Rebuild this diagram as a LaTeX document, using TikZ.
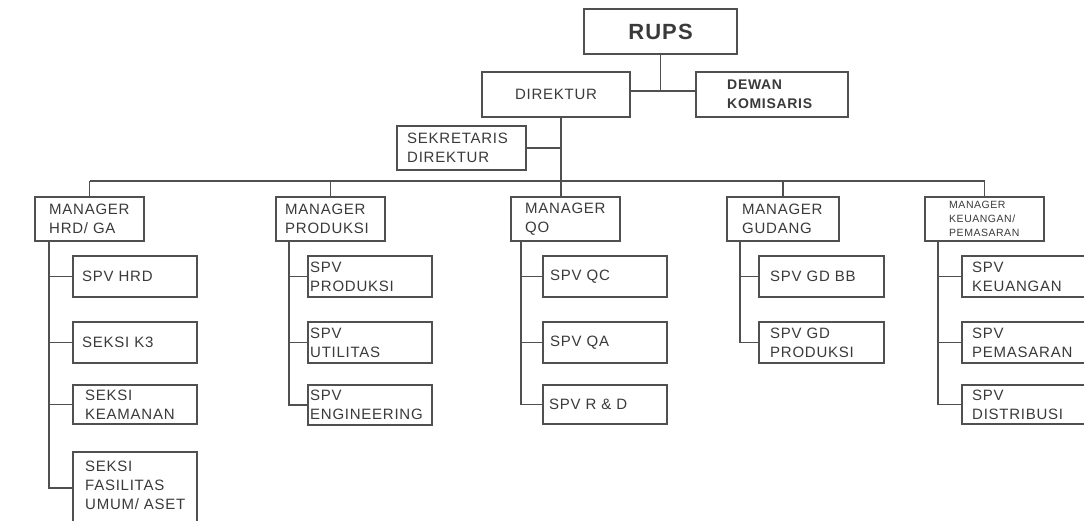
\documentclass[tikz,border=0pt]{standalone}
\usepackage{fontspec}
\setmainfont{Liberation Sans}[LetterSpace=5]
\definecolor{linec}{RGB}{80,80,80}
\definecolor{txtc}{RGB}{58,58,58}
\tikzset{
  box/.style={draw=linec, line width=1.7pt, fill=white, rectangle, inner sep=0pt, outer sep=0pt},
  txt/.style={inner sep=0pt, align=left, text=txtc, font=\fontsize{15}{19}\selectfont},
  smalltxt/.style={inner sep=0pt, align=left, text=txtc, font=\fontsize{10.5}{14}\selectfont},
  conn/.style={draw=linec, line width=1.9pt},
}
\newcommand\orgbox[5]{\node[box, anchor=north west, minimum width={(#4-#2)*1pt}, minimum height={(#5-#3)*1pt}] (#1) at (#2,#3) {};}
\newcommand\orgtext[3]{\node[txt, anchor=west] (#1-t) at ([xshift=#2pt]#1.west) {#3};}
\begin{document}
\begin{tikzpicture}[x=1pt,y=-1pt]
\useasboundingbox (0,0) rectangle (1084,520);
\fill[white] (0,0) rectangle (1084,520);
\clip (0,0) rectangle (1084,520);

% top
\orgbox{rups}{584}{9}{737}{54}
\node[inner sep=0pt, text=txtc, font=\bfseries\fontsize{22}{26}\selectfont] (rups-t) at (rups.center) {RUPS};
\orgbox{dir}{482}{72}{630}{117}
\node[txt] (dir-t) at (dir.center) {DIREKTUR};
\orgbox{dew}{696}{72}{848}{117}
\node[txt, anchor=west, font=\bfseries\fontsize{14}{19}\selectfont] (dew-t) at ([xshift=31pt]dew.west) {DEWAN\\KOMISARIS};
\orgbox{sek}{397}{126}{526}{170}
\orgtext{sek}{10}{SEKRETARIS\\DIREKTUR}

% managers
\orgbox{hrd}{35}{197}{144}{241}
\orgtext{hrd}{14}{MANAGER\\HRD/ GA}
\orgbox{prod}{276}{197}{385}{241}
\orgtext{prod}{9}{MANAGER\\PRODUKSI}
\orgbox{qo}{511}{197}{620}{241}
\orgtext{qo}{14}{MANAGER\\QO}
\orgbox{gud}{727}{197}{839}{241}
\orgtext{gud}{15}{MANAGER\\GUDANG}
\orgbox{keu}{925}{197}{1044}{241}
\node[smalltxt, anchor=west] (keu-t) at ([xshift=24pt]keu.west) {MANAGER\\KEUANGAN/\\PEMASARAN};

% HRD column
\orgbox{spvhrd}{73}{256}{197}{297}
\orgtext{spvhrd}{9}{SPV HRD}
\orgbox{k3}{73}{322}{197}{363}
\orgtext{k3}{9}{SEKSI K3}
\orgbox{keam}{73}{385}{197}{424}
\orgtext{keam}{12}{SEKSI\\KEAMANAN}
\orgbox{fas}{73}{452}{197}{524}
\node[txt, anchor=north west] (fas-t) at ([xshift=12pt,yshift=-9pt]fas.north west) {SEKSI\\FASILITAS\\UMUM/ ASET};

% Produksi column
\orgbox{spvprod}{308}{256}{432}{297}
\orgtext{spvprod}{2}{SPV\\PRODUKSI}
\orgbox{util}{308}{322}{432}{363}
\orgtext{util}{2}{SPV\\UTILITAS}
\orgbox{eng}{308}{385}{432}{425}
\orgtext{eng}{2}{SPV\\ENGINEERING}

% QO column
\orgbox{qc}{543}{256}{667}{297}
\orgtext{qc}{7}{SPV QC}
\orgbox{qa}{543}{322}{667}{363}
\orgtext{qa}{7}{SPV QA}
\orgbox{rd}{543}{385}{667}{424}
\orgtext{rd}{6}{SPV R \& D}

% Gudang column
\orgbox{gdbb}{759}{256}{884}{297}
\orgtext{gdbb}{11}{SPV GD BB}
\orgbox{gdprod}{759}{322}{884}{363}
\orgtext{gdprod}{11}{SPV GD\\PRODUKSI}

% Keuangan column
\orgbox{spvkeu}{962}{256}{1092}{297}
\orgtext{spvkeu}{10}{SPV\\KEUANGAN}
\orgbox{pem}{962}{322}{1092}{363}
\orgtext{pem}{10}{SPV\\PEMASARAN}
\orgbox{dist}{962}{385}{1092}{424}
\orgtext{dist}{10}{SPV\\DISTRIBUSI}

% connectors top
\coordinate (j1) at (665,91);
\draw[conn] (rups.south) -- (rups.south |- j1);
\draw[conn] (dir.east |- j1) -- (dew.west |- j1);
\coordinate (bus) at (561,181);
\draw[conn] (dir.south -| bus) -- (qo.north -| bus);
\draw[conn] (sek.east) -- (sek.east -| bus);
\draw[conn] (hrd.north |- bus) -- (keu.north |- bus);
\foreach \m in {hrd,prod,gud,keu} \draw[conn] (\m.north) -- (\m.north |- bus);

% spines
\coordinate (sp1) at ([xshift=14pt]hrd.south west);
\draw[conn] (sp1) |- (fas.west);
\foreach \s in {spvhrd,k3,keam} \draw[conn] (\s.west) -- (\s.west -| sp1);
\coordinate (sp2) at ([xshift=13pt]prod.south west);
\draw[conn] (sp2) |- (eng.west);
\foreach \s in {spvprod,util} \draw[conn] (\s.west) -- (\s.west -| sp2);
\coordinate (sp3) at ([xshift=10pt]qo.south west);
\draw[conn] (sp3) |- (rd.west);
\foreach \s in {qc,qa} \draw[conn] (\s.west) -- (\s.west -| sp3);
\coordinate (sp4) at ([xshift=13pt]gud.south west);
\draw[conn] (sp4) |- (gdprod.west);
\draw[conn] (gdbb.west) -- (gdbb.west -| sp4);
\coordinate (sp5) at ([xshift=13pt]keu.south west);
\draw[conn] (sp5) |- (dist.west);
\foreach \s in {spvkeu,pem} \draw[conn] (\s.west) -- (\s.west -| sp5);
\end{tikzpicture}
\end{document}
